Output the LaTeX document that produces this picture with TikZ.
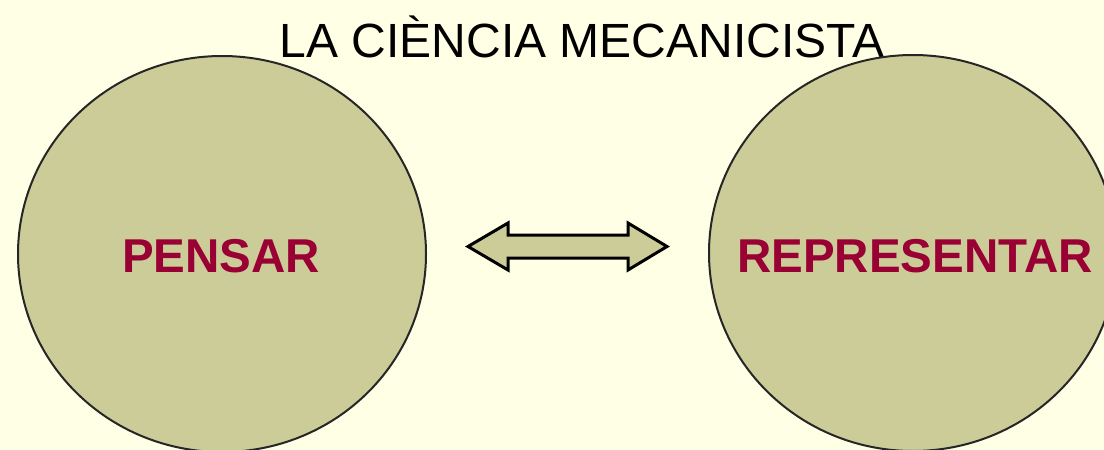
\documentclass[tikz,border=0pt]{standalone}
\usepackage{fontspec}
\setmainfont{Liberation Sans}
\usetikzlibrary{shapes.geometric}

\definecolor{fons}{HTML}{FFFFE5}
\definecolor{oliva}{HTML}{CCCC99}
\definecolor{granat}{HTML}{990033}

\tikzset{
  cercle/.style={ellipse, draw=black!85, line width=2pt, fill=oliva, inner sep=0pt,
    minimum width=408pt, minimum height=396pt},
  etiqueta/.style={anchor=base, text=granat, font=\bfseries\fontsize{47.5}{50}\selectfont},
  fletxa/.style={draw=black, line width=3pt, fill=oliva, line join=miter}
}

\begin{document}
\begin{tikzpicture}[x=1pt,y=-1pt]
  % Fons i marges
  \useasboundingbox (0,0) rectangle (1104,450);
  \fill[fons] (0,0) rectangle (1104,450);
  \clip (0,0) rectangle (1104,450);
  % Titol
  \node[anchor=base, font=\fontsize{48}{50}\selectfont] (titol) at (582,57) {LA CIÈNCIA MECANICISTA};
  % Cercles
  \node[cercle] (pensar) at (222,254) {};
  \node[cercle] (representar) at (913,253) {};
  \node[etiqueta] (tpensar) at (221,272) {PENSAR};
  \node[etiqueta] (trepresentar) at (915,272) {REPRESENTAR};
  % Fletxa doble
  \coordinate (mig) at (567.5,246.5);
  \draw[fletxa] (mig) ++(-99.5,0) -- ++(40,-23.5) -- ++(0,12) -- ++(120,0) -- ++(0,-12)
    -- ++(39,23.5) -- ++(-39,23.5) -- ++(0,-12) -- ++(-120,0) -- ++(0,12) -- cycle;
\end{tikzpicture}
\end{document}
